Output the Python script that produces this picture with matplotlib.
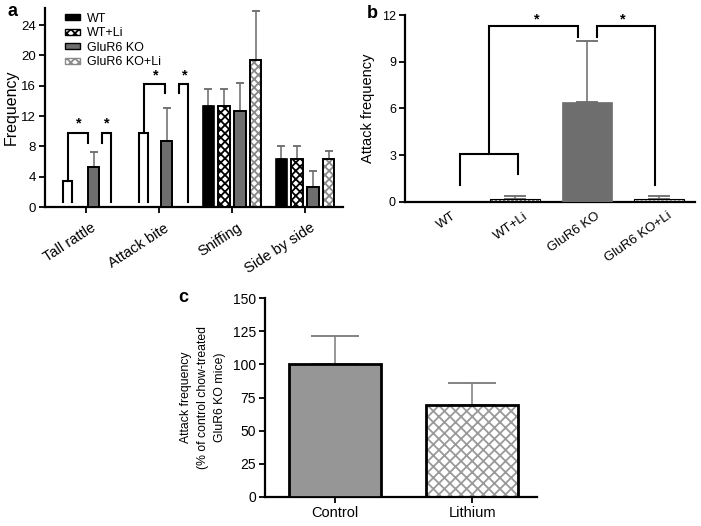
import matplotlib
matplotlib.use("Agg")
import matplotlib.pyplot as plt
import matplotlib.transforms as mtransforms
from matplotlib.patches import Patch
import numpy as np

plt.rcParams['font.family'] = ['Liberation Sans', 'DejaVu Sans']
plt.rcParams['hatch.linewidth'] = 1.3

# ---------------- data ----------------
# panel a
behaviors = ["Tall rattle", "Attack bite", "Sniffing", "Side by side"]
groups = ["WT", "WT+Li", "GluR6 KO", "GluR6 KO+Li"]
a_wt = [0, 0, 13.3, 6.3]
a_wt_li = [0, 0, 13.3, 6.3]
a_ko = [5.3, 8.7, 12.6, 2.7]
a_ko_li = [0, 0, 19.4, 6.3]
a_wt_err = [0, 0, 2.3, 1.8]
a_wt_li_err = [0, 0, 2.3, 1.8]
a_ko_err = [2.0, 4.4, 3.8, 2.1]
a_ko_li_err = [0, 0, 6.5, 1.1]
a_yticks = [0, 4, 8, 12, 16, 20, 24]

# panel b
b_groups = ["WT", "WT+Li", "GluR6 KO", "GluR6 KO+Li"]
b_vals = [0, 0.2, 6.4, 0.2]
b_err = [0, 0.15, 3.95, 0.15]
b_yticks = [0, 3, 6, 9, 12]

# panel c
c_groups = ["Control", "Lithium"]
c_vals = [100, 69]
c_err = [21.5, 17]
c_yticks = [0, 25, 50, 75, 100, 125, 150]

# significance brackets (x offsets relative to group centre, y values)
a_brackets = {
    0: [([-0.315, -0.315, -0.184, -0.184], [0.7, 3.4, 3.4, 0.7]),
        ([-0.247, -0.247, 0.022, 0.022], [3.4, 9.8, 9.8, 8.5]),
        ([0.219, 0.219, 0.347, 0.347], [8.5, 9.8, 9.8, 0.7])],
    1: [([-0.274, -0.274, -0.145, -0.145], [0.7, 9.8, 9.8, 0.7]),
        ([-0.21, -0.21, 0.078, 0.078], [9.8, 16.2, 16.2, 15.0]),
        ([0.274, 0.274, 0.397, 0.397], [15.0, 16.2, 16.2, 0.7])],
}
a_stars = {0: [(-0.1, 11.0), (0.288, 11.0)], 1: [(-0.045, 17.3), (0.348, 17.3)]}

b_brackets = [([0.236, 0.236, 1.046, 1.046], [1.1, 3.05, 3.05, 1.76]),
              ([0.643, 0.643, 1.87, 1.87], [3.05, 11.29, 11.29, 10.56]),
              ([2.135, 2.135, 2.95, 2.95], [10.56, 11.29, 11.29, 1.1])]
b_stars = [(1.30, 11.7), (2.49, 11.7)]

# ---------------- figure ----------------
W, H = 701, 526
fig = plt.figure(figsize=(W / 100, H / 100), dpi=100)

def style_axes(ax, ls=9.5):
    for s in ['top', 'right']:
        ax.spines[s].set_visible(False)
    for s in ['left', 'bottom']:
        ax.spines[s].set_linewidth(1.6)
    ax.tick_params(axis='both', direction='out', width=1.3, length=4, labelsize=ls, pad=2.5)

def hatched_bar(ax, x, h, w, hatch, hcolor, fc='white', lw=1.4):
    ax.bar(x, h, w, color=fc, edgecolor=hcolor, hatch=hatch, linewidth=0, zorder=2)
    ax.bar(x, h, w, fill=False, edgecolor='black', linewidth=lw, zorder=3)

def up_err(ax, x, vals, errs, color='#6a6a6a', capsize=3.5):
    vals = np.asarray(vals, float); errs = np.asarray(errs, float)
    m = errs > 0
    ax.errorbar(np.asarray(x)[m], vals[m], yerr=[np.zeros(m.sum()), errs[m]],
                fmt='none', ecolor=color, elinewidth=1.1, capsize=capsize, capthick=1.3, zorder=1)

def shift_labels(ax, dx_px):
    off = mtransforms.ScaledTranslation(dx_px / 100, 0, fig.dpi_scale_trans)
    for lab in ax.get_xticklabels():
        lab.set_transform(lab.get_transform() + off)

# ---- panel a ----
axa = fig.add_axes([45 / W, 1 - 207 / H, 298 / W, 199 / H])
style_axes(axa, 9.5)
slot, bw = 0.215, 0.156
xg = np.arange(len(behaviors))
xs = [xg + (i - 1.5) * slot for i in range(4)]
up_err(axa, xs[0], a_wt, a_wt_err, capsize=2.6)
up_err(axa, xs[1], a_wt_li, a_wt_li_err, capsize=2.6)
up_err(axa, xs[2], a_ko, a_ko_err, capsize=2.6)
up_err(axa, xs[3], a_ko_li, a_ko_li_err, capsize=2.6)
axa.bar(xs[0], a_wt, bw, color='black', edgecolor='black', linewidth=1.2, zorder=3)
axa.bar(xs[1], a_wt_li, bw, color='white', edgecolor='black', hatch='xxxx', linewidth=1.4, zorder=3)
axa.bar(xs[2], a_ko, bw, color='#6e6e6e', edgecolor='black', linewidth=1.4, zorder=3)
hatched_bar(axa, xs[3], a_ko_li, bw, 'xxxx', '#8a8a8a')
for g, brs in a_brackets.items():
    for bx, by in brs:
        axa.plot(np.array(bx) + xg[g], by, color='black', lw=1.5, zorder=4, solid_joinstyle='miter')
    for sx, sy in a_stars[g]:
        axa.text(sx + xg[g], sy, '*', ha='center', va='center', fontsize=10.5, fontweight='bold')
axa.set_xlim(-0.56, 3.52)
axa.set_ylim(0, 26.25)
axa.set_yticks(a_yticks)
axa.set_xticks(xg)
axa.set_xticklabels(behaviors, rotation=33, ha='right', rotation_mode='anchor', fontsize=10.5)
axa.tick_params(axis='x', pad=6)
shift_labels(axa, 5)
axa.set_ylabel('Frequency', fontsize=11.5, labelpad=2)
handles = [Patch(facecolor='black', edgecolor='black'),
           Patch(facecolor='white', edgecolor='black', hatch='xxxx'),
           Patch(facecolor='#6e6e6e', edgecolor='black'),
           Patch(facecolor='white', edgecolor='#8a8a8a', hatch='xxxx')]
axa.legend(handles, groups, loc='upper left', bbox_to_anchor=(56 / W, 1 - 4 / H),
           bbox_transform=fig.transFigure, frameon=False, fontsize=9,
           handlelength=1.2, handleheight=0.4, handletextpad=0.6, labelspacing=0.2,
           borderpad=0.2)
fig.text(8 / W, 1 - 12 / H, 'a', fontsize=13, fontweight='bold', va='center')

# ---- panel b ----
axb = fig.add_axes([405 / W, 1 - 201.7 / H, 290 / W, 186.7 / H])
style_axes(axb, 9)
xb = np.arange(len(b_groups))
bwb = 0.7
up_err(axb, xb, b_vals, b_err, capsize=8)
hatched_bar(axb, xb[1], b_vals[1], bwb, '....', '#555555', lw=0.8)
axb.bar(xb[2], b_vals[2], bwb, color='#6e6e6e', edgecolor='#6e6e6e', linewidth=0.5, zorder=3)
hatched_bar(axb, xb[3], b_vals[3], bwb, '....', '#9a9a9a', lw=0.8)
for bx, by in b_brackets:
    axb.plot(bx, by, color='black', lw=1.5, zorder=4, solid_joinstyle='miter')
for sx, sy in b_stars:
    axb.text(sx, sy, '*', ha='center', va='center', fontsize=10.5, fontweight='bold')
axb.set_xlim(-0.53, 3.5)
axb.set_ylim(0, 12)
axb.set_yticks(b_yticks)
axb.set_xticks(xb)
axb.tick_params(axis='x', length=0, pad=6)
axb.set_xticklabels(b_groups, rotation=35, ha='right', rotation_mode='anchor', fontsize=9.5)
shift_labels(axb, 8)
axb.set_ylabel('Attack frequency', fontsize=10.5, labelpad=5)
fig.text(367 / W, 1 - 14 / H, 'b', fontsize=13, fontweight='bold', va='center')

# ---- panel c ----
axc = fig.add_axes([265 / W, 1 - 496.7 / H, 271.7 / W, 198.4 / H])
style_axes(axc, 10)
xc = np.arange(len(c_groups))
bwc = 0.67
up_err(axc, xc, c_vals, c_err, color='#7a7a7a', capsize=17)
axc.bar(xc[0], c_vals[0], bwc, color='#969696', edgecolor='black', linewidth=2, zorder=3)
hatched_bar(axc, xc[1], c_vals[1], bwc, 'xxx', '#9a9a9a', lw=2)
axc.set_xlim(-0.51, 1.47)
axc.set_ylim(0, 150)
axc.set_yticks(c_yticks)
axc.set_xticks(xc)
axc.set_xticklabels(c_groups, fontsize=10.5)
axc.set_ylabel('Attack frequency\n(% of control chow-treated\nGluR6 KO mice)', fontsize=8.8,
               labelpad=5, linespacing=1.55)
fig.text(178 / W, 1 - 297 / H, 'c', fontsize=13, fontweight='bold', va='center')

fig.savefig('out.png', dpi=100)
